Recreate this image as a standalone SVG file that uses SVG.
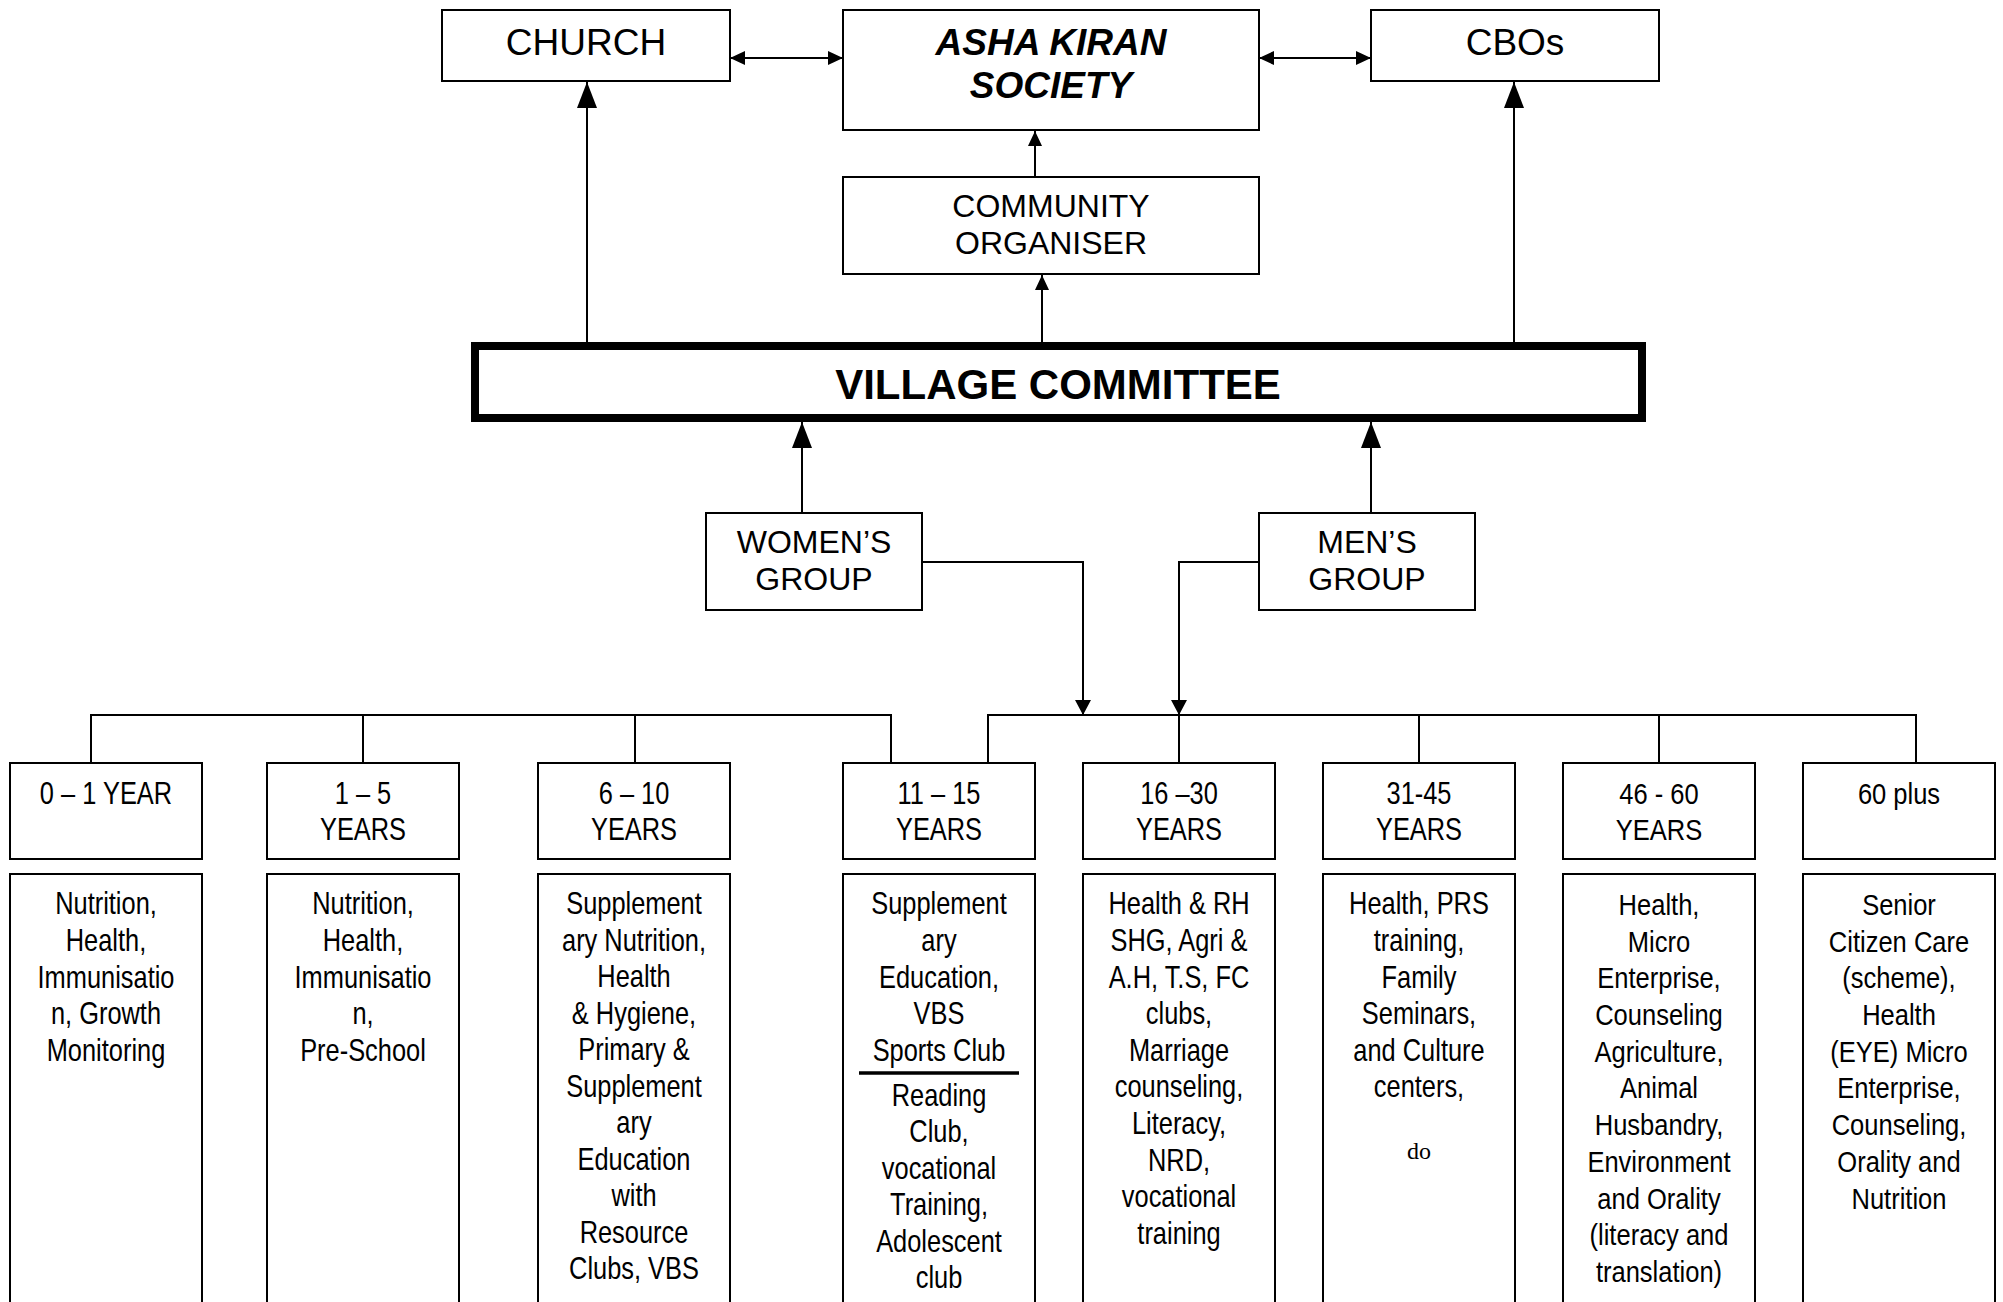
<svg xmlns="http://www.w3.org/2000/svg" width="2003" height="1302" viewBox="0 0 2003 1302">
<style>
.bx{fill:#fff;stroke:#000;stroke-width:2}
.vc{fill:#fff;stroke:#000;stroke-width:8}
.ln{fill:none;stroke:#000;stroke-width:2}
.t{font-family:"Liberation Sans",Arial,sans-serif;fill:#000;text-anchor:middle}
.top{font-size:37px}
.mid{font-size:32px}
.bi{font-size:37px;font-weight:bold;font-style:italic}
.vct{font-size:42px;font-weight:bold}
.n{font-size:31px}
.w{font-size:29px}
.s{font-family:"Liberation Serif","Times New Roman",serif;font-size:24px;fill:#000;text-anchor:middle}
</style>
<defs>
<marker id="big" markerUnits="userSpaceOnUse" markerWidth="26" markerHeight="20" refX="26" refY="10" orient="auto"><path d="M0,0 L26,10 L0,20 z" fill="#000"/></marker>
<marker id="sm" markerUnits="userSpaceOnUse" markerWidth="15" markerHeight="14" refX="15" refY="7" orient="auto"><path d="M0,0 L15,7 L0,14 z" fill="#000"/></marker>
<marker id="sms" markerUnits="userSpaceOnUse" markerWidth="15" markerHeight="14" refX="0" refY="7" orient="auto"><path d="M15,0 L0,7 L15,14 z" fill="#000"/></marker>
<marker id="dn" markerUnits="userSpaceOnUse" markerWidth="15" markerHeight="16" refX="15" refY="8" orient="auto"><path d="M0,0 L15,8 L0,16 z" fill="#000"/></marker>
</defs>

<g id="connectors">
<path class="ln" d="M730,58 H843" marker-start="url(#sms)" marker-end="url(#sm)"/>
<path class="ln" d="M1259,58 H1371" marker-start="url(#sms)" marker-end="url(#sm)"/>
<path class="ln" d="M1035,177 V131" marker-end="url(#sm)"/>
<path class="ln" d="M1042,342 V275" marker-end="url(#sm)"/>
<path class="ln" d="M587,342 V82" marker-end="url(#big)"/>
<path class="ln" d="M1514,342 V82" marker-end="url(#big)"/>
<path class="ln" d="M802,513 V422" marker-end="url(#big)"/>
<path class="ln" d="M1371,513 V422" marker-end="url(#big)"/>
<path class="ln" d="M922,562 H1083 V715" marker-end="url(#dn)"/>
<path class="ln" d="M1259,562 H1179 V715" marker-end="url(#dn)"/>
<path class="ln" d="M91,763 V715 H891 V763"/>
<path class="ln" d="M363,715 V763 M635,715 V763"/>
<path class="ln" d="M988,763 V715 H1916 V763"/>
<path class="ln" d="M1179,715 V763 M1419,715 V763 M1659,715 V763"/>
</g>

<g id="church"><rect class="bx" x="442" y="10" width="288" height="71"/><text class="t top" x="586" y="55">CHURCH</text></g>
<g id="asha"><rect class="bx" x="843" y="10" width="416" height="120"/><text class="t bi" x="1051" y="55">ASHA KIRAN</text><text class="t bi" x="1051" y="98">SOCIETY</text></g>
<g id="cbos"><rect class="bx" x="1371" y="10" width="288" height="71"/><text class="t top" x="1515" y="55">CBOs</text></g>
<g id="organiser"><rect class="bx" x="843" y="177" width="416" height="97"/><text class="t mid" x="1051" y="217">COMMUNITY</text><text class="t mid" x="1051" y="254">ORGANISER</text></g>
<g id="village-committee"><rect class="vc" x="475" y="346" width="1167" height="72"/><text class="t vct" x="1058" y="399">VILLAGE COMMITTEE</text></g>
<g id="womens-group"><rect class="bx" x="706" y="513" width="216" height="97"/><text class="t mid" x="814" y="553">WOMEN’S</text><text class="t mid" x="814" y="590">GROUP</text></g>
<g id="mens-group"><rect class="bx" x="1259" y="513" width="216" height="97"/><text class="t mid" x="1367" y="553">MEN’S</text><text class="t mid" x="1367" y="590">GROUP</text></g>

<g id="age-0-1">
<rect class="bx" x="10" y="763" width="192" height="96"/>
<rect class="bx" x="10" y="874" width="192" height="440"/>
<g transform="translate(106 0) scale(0.82 1)">
<text class="t n" x="0" y="804">0 – 1 YEAR</text>
<text class="t n" y="914.5"><tspan x="0">Nutrition,</tspan><tspan x="0" dy="36.6">Health,</tspan><tspan x="0" dy="36.6">Immunisatio</tspan><tspan x="0" dy="36.6">n, Growth</tspan><tspan x="0" dy="36.6">Monitoring</tspan></text>
</g>
</g>

<g id="age-1-5">
<rect class="bx" x="267" y="763" width="192" height="96"/>
<rect class="bx" x="267" y="874" width="192" height="440"/>
<g transform="translate(363 0) scale(0.82 1)">
<text class="t n" x="0" y="804">1 – 5</text>
<text class="t n" x="0" y="840">YEARS</text>
<text class="t n" y="914.5"><tspan x="0">Nutrition,</tspan><tspan x="0" dy="36.6">Health,</tspan><tspan x="0" dy="36.6">Immunisatio</tspan><tspan x="0" dy="36.6">n,</tspan><tspan x="0" dy="36.6">Pre-School</tspan></text>
</g>
</g>

<g id="age-6-10">
<rect class="bx" x="538" y="763" width="192" height="96"/>
<rect class="bx" x="538" y="874" width="192" height="440"/>
<g transform="translate(634 0) scale(0.82 1)">
<text class="t n" x="0" y="804">6 – 10</text>
<text class="t n" x="0" y="840">YEARS</text>
<text class="t n" y="914.5"><tspan x="0">Supplement</tspan><tspan x="0" dy="36.5">ary Nutrition,</tspan><tspan x="0" dy="36.5">Health</tspan><tspan x="0" dy="36.5">&amp; Hygiene,</tspan><tspan x="0" dy="36.5">Primary &amp;</tspan><tspan x="0" dy="36.5">Supplement</tspan><tspan x="0" dy="36.5">ary</tspan><tspan x="0" dy="36.5">Education</tspan><tspan x="0" dy="36.5">with</tspan><tspan x="0" dy="36.5">Resource</tspan><tspan x="0" dy="36.5">Clubs, VBS</tspan></text>
</g>
</g>

<g id="age-11-15">
<rect class="bx" x="843" y="763" width="192" height="96"/>
<rect class="bx" x="843" y="874" width="192" height="440"/>
<line x1="859" y1="1073" x2="1019" y2="1073" stroke="#000" stroke-width="3.5"/>
<g transform="translate(939 0) scale(0.82 1)">
<text class="t n" x="0" y="804">11 – 15</text>
<text class="t n" x="0" y="840">YEARS</text>
<text class="t n" y="914.5"><tspan x="0">Supplement</tspan><tspan x="0" dy="36.6">ary</tspan><tspan x="0" dy="36.6">Education,</tspan><tspan x="0" dy="36.6">VBS</tspan><tspan x="0" dy="36.6">Sports Club</tspan></text>
<text class="t n" y="1105.6"><tspan x="0">Reading</tspan><tspan x="0" dy="36.5">Club,</tspan><tspan x="0" dy="36.5">vocational</tspan><tspan x="0" dy="36.5">Training,</tspan><tspan x="0" dy="36.5">Adolescent</tspan><tspan x="0" dy="36.5">club</tspan></text>
</g>
</g>

<g id="age-16-30">
<rect class="bx" x="1083" y="763" width="192" height="96"/>
<rect class="bx" x="1083" y="874" width="192" height="440"/>
<g transform="translate(1179 0) scale(0.82 1)">
<text class="t n" x="0" y="804">16 –30</text>
<text class="t n" x="0" y="840">YEARS</text>
<text class="t n" y="914.5"><tspan x="0">Health &amp; RH</tspan><tspan x="0" dy="36.6">SHG, Agri &amp;</tspan><tspan x="0" dy="36.6">A.H, T.S, FC</tspan><tspan x="0" dy="36.6">clubs,</tspan><tspan x="0" dy="36.6">Marriage</tspan><tspan x="0" dy="36.6">counseling,</tspan><tspan x="0" dy="36.6">Literacy,</tspan><tspan x="0" dy="36.6">NRD,</tspan><tspan x="0" dy="36.6">vocational</tspan><tspan x="0" dy="36.6">training</tspan></text>
</g>
</g>

<g id="age-31-45">
<rect class="bx" x="1323" y="763" width="192" height="96"/>
<rect class="bx" x="1323" y="874" width="192" height="440"/>
<g transform="translate(1419 0) scale(0.82 1)">
<text class="t n" x="0" y="804">31-45</text>
<text class="t n" x="0" y="840">YEARS</text>
<text class="t n" y="914.5"><tspan x="0">Health, PRS</tspan><tspan x="0" dy="36.6">training,</tspan><tspan x="0" dy="36.6">Family</tspan><tspan x="0" dy="36.6">Seminars,</tspan><tspan x="0" dy="36.6">and Culture</tspan><tspan x="0" dy="36.6">centers,</tspan></text>
</g>
<text class="s" x="1419" y="1159">do</text>
</g>

<g id="age-46-60">
<rect class="bx" x="1563" y="763" width="192" height="96"/>
<rect class="bx" x="1563" y="874" width="192" height="440"/>
<g transform="translate(1659 0) scale(0.88 1)">
<text class="t w" x="0" y="804">46 - 60</text>
<text class="t w" x="0" y="840">YEARS</text>
<text class="t w" y="915"><tspan x="0">Health,</tspan><tspan x="0" dy="36.7">Micro</tspan><tspan x="0" dy="36.7">Enterprise,</tspan><tspan x="0" dy="36.7">Counseling</tspan><tspan x="0" dy="36.7">Agriculture,</tspan><tspan x="0" dy="36.7">Animal</tspan><tspan x="0" dy="36.7">Husbandry,</tspan><tspan x="0" dy="36.7">Environment</tspan><tspan x="0" dy="36.7">and Orality</tspan><tspan x="0" dy="36.7">(literacy and</tspan><tspan x="0" dy="36.7">translation)</tspan></text>
</g>
</g>

<g id="age-60-plus">
<rect class="bx" x="1803" y="763" width="192" height="96"/>
<rect class="bx" x="1803" y="874" width="192" height="440"/>
<g transform="translate(1899 0) scale(0.88 1)">
<text class="t w" x="0" y="804">60 plus</text>
<text class="t w" y="915"><tspan x="0">Senior</tspan><tspan x="0" dy="36.7">Citizen Care</tspan><tspan x="0" dy="36.7">(scheme),</tspan><tspan x="0" dy="36.7">Health</tspan><tspan x="0" dy="36.7">(EYE) Micro</tspan><tspan x="0" dy="36.7">Enterprise,</tspan><tspan x="0" dy="36.7">Counseling,</tspan><tspan x="0" dy="36.7">Orality and</tspan><tspan x="0" dy="36.7">Nutrition</tspan></text>
</g>
</g>
</svg>
